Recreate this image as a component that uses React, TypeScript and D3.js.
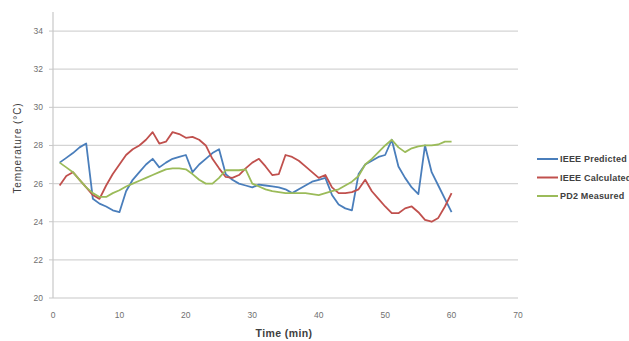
import React from 'react';
import * as d3 from 'd3';

// minutes 1..60
const minutes = d3.range(1, 61);

const ieeePredicted = [
  27.1, 27.35, 27.6, 27.9, 28.1, 25.2, 24.95, 24.8, 24.6, 24.5,
  25.6, 26.2, 26.6, 27.0, 27.3, 26.85, 27.1, 27.3, 27.4, 27.5,
  26.6, 27.0, 27.3, 27.6, 27.8, 26.5, 26.2, 26.0, 25.9, 25.8,
  25.95, 25.9, 25.85, 25.8, 25.7, 25.5, 25.7, 25.9, 26.1, 26.2,
  26.3, 25.4, 24.9, 24.7, 24.6, 26.5, 27.0, 27.2, 27.4, 27.5,
  28.3, 26.9, 26.3, 25.8, 25.45, 28.0, 26.6, 25.9, 25.2, 24.5,
];

const ieeeCalculated = [
  25.9, 26.4, 26.6, 26.2, 25.8, 25.4, 25.2, 25.9, 26.5, 27.0,
  27.5, 27.8, 28.0, 28.3, 28.7, 28.1, 28.2, 28.7, 28.6, 28.4,
  28.45, 28.3, 28.0, 27.3, 26.8, 26.35, 26.3, 26.45, 26.8, 27.1,
  27.3, 26.9, 26.45, 26.5, 27.5, 27.4, 27.2, 26.9, 26.6, 26.3,
  26.45, 25.8, 25.5, 25.5, 25.55, 25.7, 26.2, 25.6, 25.2, 24.8,
  24.45, 24.45, 24.7, 24.8, 24.5, 24.1, 24.0, 24.2, 24.8, 25.5,
];

const pd2Measured = [
  27.1, 26.85, 26.6, 26.2, 25.8, 25.5, 25.3, 25.3, 25.5, 25.65,
  25.85, 26.0, 26.15, 26.3, 26.45, 26.6, 26.75, 26.8, 26.8, 26.75,
  26.5, 26.2, 26.0, 26.0, 26.3, 26.7, 26.7, 26.7, 26.75, 26.0,
  25.85, 25.7, 25.6, 25.55, 25.5, 25.5, 25.5, 25.5, 25.45, 25.4,
  25.5, 25.6, 25.7, 25.9, 26.1, 26.4, 27.0, 27.3, 27.65, 28.0,
  28.3, 27.9, 27.65, 27.85, 27.95, 28.0, 28.0, 28.05, 28.2, 28.2,
];

const seriesNames = ['IEEE Predicted', 'IEEE Calculated', 'PD2 Measured'];
const seriesColors = ['#4a7ebb', '#c0504d', '#9bbb59'];
const xTicks = [0, 10, 20, 30, 40, 50, 60, 70];
const yTicks = [20, 22, 24, 26, 28, 30, 32, 34];

const W = 629;
const H = 341;

export default function App() {
  const x = d3.scaleLinear().domain([0, 70]).range([53, 518]);
  const y = d3.scaleLinear().domain([20, 35]).range([298, 12]);

  const series = [ieeePredicted, ieeeCalculated, pd2Measured];
  const line = d3.line<number>()
    .x((_, i) => x(minutes[i]))
    .y(d => y(d));

  const font = "'Liberation Sans', Arial, sans-serif";

  return (
    <div style={{ position: 'absolute', left: 0, top: 0 }}>
      <svg width={W} height={H} style={{ display: 'block', background: '#fff' }}>
        {/* grid */}
        {yTicks.filter(t => t > 20).map(t => (
          <line key={t} x1={x(0)} x2={x(70)} y1={y(t)} y2={y(t)}
            stroke="#d4d4d4" strokeWidth={1.2} />
        ))}
        {/* axes */}
        <line x1={x(0)} x2={x(0)} y1={y(35)} y2={y(20)} stroke="#c8c8c8" strokeWidth={1.2} />
        <line x1={x(0)} x2={x(70)} y1={y(20)} y2={y(20)} stroke="#c8c8c8" strokeWidth={1.2} />
        {yTicks.map(t => (
          <g key={t}>
            <line x1={x(0) - 4} x2={x(0)} y1={y(t)} y2={y(t)} stroke="#c8c8c8" />
            <text x={x(0) - 10} y={y(t)} dy="0.35em" textAnchor="end"
              fontFamily={font} fontSize={8.5} fill="#707070">{t}</text>
          </g>
        ))}
        {xTicks.map(t => (
          <text key={t} x={x(t)} y={318} textAnchor="middle"
            fontFamily={font} fontSize={8.5} fill="#707070">{t}</text>
        ))}
        {/* lines */}
        {series.map((s, i) => (
          <path key={seriesNames[i]} d={line(s) || ''} fill="none"
            stroke={seriesColors[i]} strokeWidth={1.8} strokeLinejoin="round" />
        ))}
        {/* titles */}
        <text x={284} y={337} textAnchor="middle" fontFamily={font} fontSize={10.5}
          fontWeight="bold" letterSpacing={0.4} fill="#404040">Time (min)</text>
        <text transform={`translate(21,${148}) rotate(-90)`} textAnchor="middle"
          fontFamily={font} fontSize={10} letterSpacing={0.9} fill="#404040">Temperature (°C)</text>
        {/* legend */}
        {seriesNames.map((n, i) => (
          <g key={n} transform={`translate(537,${159 + i * 18.5})`}>
            <line x1={0} x2={21} y1={0} y2={0} stroke={seriesColors[i]} strokeWidth={2} />
            <text x={23} y={0} dy="0.35em" fontFamily={font} fontSize={9}
              fontWeight="bold" letterSpacing={0.2} fill="#404040">{n}</text>
          </g>
        ))}
      </svg>
    </div>
  );
}
